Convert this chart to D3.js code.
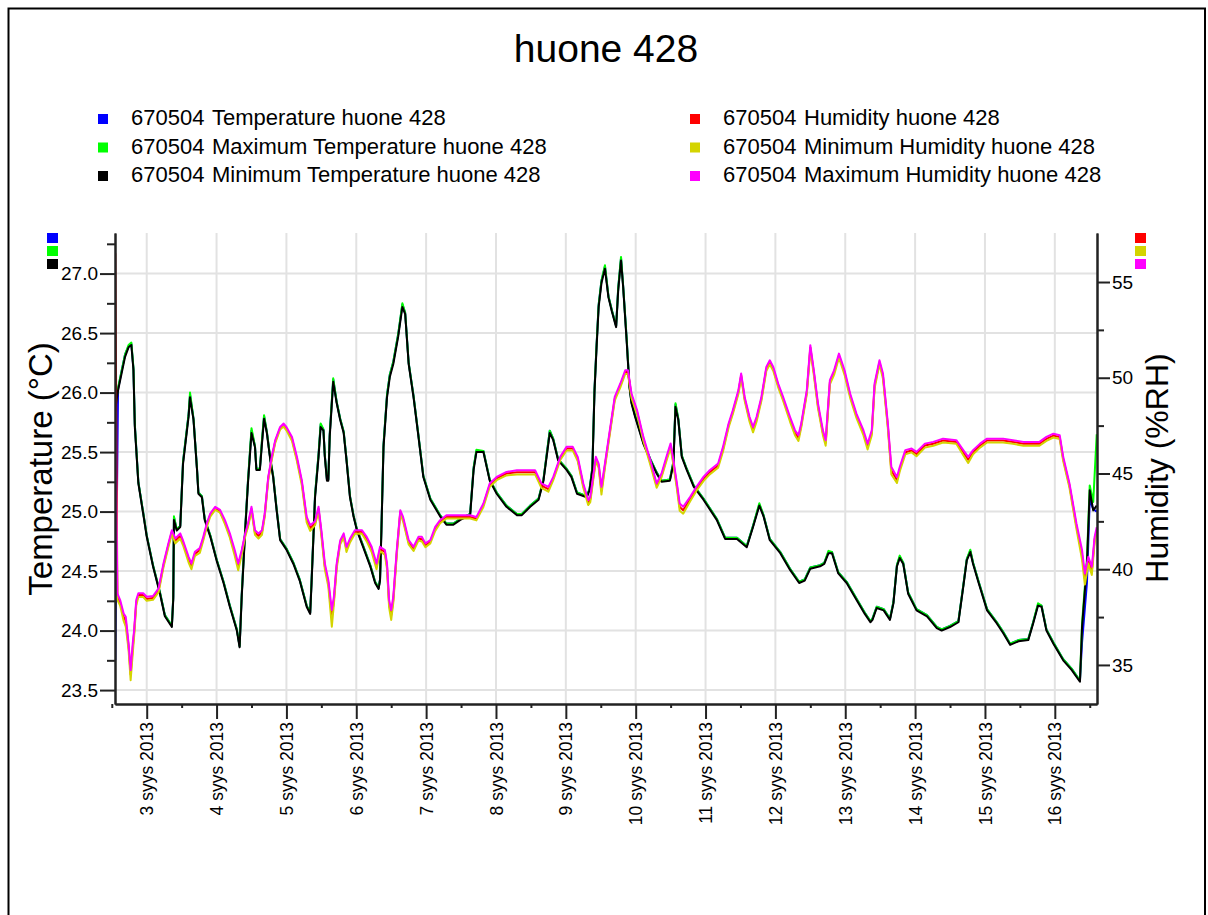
<!DOCTYPE html>
<html>
<head>
<meta charset="utf-8">
<script src="https://d3js.org/d3.v7.min.js"></script>
<style>
  body { margin: 0; background: #fff; }
  svg { display: block; }
  text { font-family: "Liberation Sans", Arial, sans-serif; fill: #000; }
  .grid line { stroke: #e2e2e2; stroke-width: 2; }
  .axis path, .axis line { stroke: #222; stroke-width: 2; fill: none; }
  .series { fill: none; stroke-width: 2; stroke-linejoin: round; }
</style>
</head>
<body>
<div id="chart"></div>
<script>
var chartTitle = "huone 428";
var loggerId = "670504";
var tempNames = ["Temperature huone 428", "Maximum Temperature huone 428", "Minimum Temperature huone 428"];
var humNames = ["Humidity huone 428", "Minimum Humidity huone 428", "Maximum Humidity huone 428"];
var tempColors = ["#0000ff", "#00ff00", "#000000"];
var humColors = ["#ff0000", "#d4d400", "#ff00ff"];

// x ticks: days of September 2013
var dayTicks = [3, 4, 5, 6, 7, 8, 9, 10, 11, 12, 13, 14, 15, 16];
var monthLabel = "syys 2013";
var tempTicks = [23.5, 24.0, 24.5, 25.0, 25.5, 26.0, 26.5, 27.0];
var humTicks = [35, 40, 45, 50, 55];

// time as day of month (fractional)
var tempDays = [
  2.55,2.59,2.64,2.69,2.74,2.78,2.81,2.83,2.88,2.95,
  3.00,3.09,3.19,3.26,3.36,3.38,3.39,3.43,3.48,3.52,
  3.60,3.62,3.67,3.72,3.74,3.79,3.83,3.91,4.00,4.10,
  4.19,4.29,4.33,4.36,4.41,4.45,4.50,4.55,4.57,4.62,
  4.65,4.68,4.72,4.77,4.81,4.86,4.91,5.00,5.10,5.19,
  5.29,5.34,5.36,5.41,5.46,5.49,5.53,5.55,5.58,5.60,
  5.62,5.67,5.72,5.77,5.82,5.86,5.91,5.96,6.01,6.10,
  6.20,6.27,6.32,6.34,6.36,6.39,6.44,6.48,6.53,6.60,
  6.66,6.70,6.75,6.82,6.89,6.96,7.06,7.20,7.29,7.39,
  7.49,7.63,7.68,7.72,7.82,7.91,8.01,8.15,8.30,8.37,
  8.49,8.61,8.68,8.77,8.82,8.89,9.01,9.08,9.16,9.30,
  9.34,9.38,9.41,9.44,9.47,9.51,9.56,9.61,9.66,9.72,
  9.75,9.79,9.82,9.87,9.91,9.94,9.99,10.11,10.21,10.30,
  10.37,10.49,10.54,10.57,10.61,10.66,10.73,10.83,10.97,11.16,
  11.28,11.45,11.59,11.68,11.77,11.83,11.92,12.07,12.21,12.34,
  12.42,12.50,12.64,12.70,12.76,12.81,12.90,13.02,13.16,13.28,
  13.36,13.39,13.45,13.55,13.64,13.69,13.74,13.78,13.83,13.90,
  14.02,14.17,14.31,14.38,14.50,14.62,14.69,14.74,14.79,14.83,
  14.91,15.03,15.17,15.26,15.36,15.48,15.62,15.69,15.76,15.81,
  15.88,15.98,16.12,16.24,16.36,16.39,16.46,16.50,16.55,16.60
];
var tempAvg = [
  23.75,26.03,26.18,26.32,26.39,26.41,26.20,25.73,25.25,24.99,
  24.80,24.55,24.32,24.13,24.04,24.28,24.95,24.85,24.88,25.42,
  25.82,25.98,25.78,25.36,25.16,25.13,24.94,24.80,24.60,24.41,
  24.21,24.01,23.87,24.30,24.86,25.26,25.68,25.55,25.36,25.36,
  25.59,25.80,25.67,25.44,25.30,25.02,24.77,24.69,24.57,24.43,
  24.21,24.15,24.42,25.14,25.48,25.73,25.69,25.47,25.27,25.27,
  25.65,26.11,25.92,25.78,25.67,25.44,25.13,24.97,24.85,24.71,
  24.55,24.41,24.36,24.43,24.86,25.56,25.98,26.15,26.26,26.49,
  26.74,26.67,26.25,25.97,25.64,25.30,25.11,24.97,24.90,24.90,
  24.94,24.98,25.37,25.51,25.51,25.27,25.16,25.05,24.98,24.98,
  25.05,25.11,25.27,25.68,25.61,25.44,25.36,25.30,25.16,25.13,
  25.19,25.37,26.02,26.40,26.74,26.94,27.06,26.81,26.69,26.56,
  26.88,27.13,26.90,26.46,26.06,25.92,25.81,25.58,25.44,25.33,
  25.26,25.27,25.42,25.90,25.78,25.47,25.36,25.22,25.11,24.94,
  24.78,24.78,24.71,24.88,25.06,24.97,24.77,24.66,24.52,24.41,
  24.43,24.53,24.55,24.57,24.66,24.66,24.49,24.41,24.27,24.15,
  24.08,24.10,24.20,24.18,24.10,24.24,24.55,24.62,24.57,24.32,
  24.18,24.13,24.03,24.01,24.04,24.08,24.38,24.60,24.67,24.57,
  24.41,24.18,24.07,23.99,23.89,23.92,23.93,24.07,24.22,24.21,
  24.01,23.90,23.76,23.68,23.58,23.90,24.40,25.10,25.02,25.00
];
var tempMax = [
  25.88,26.04,26.18,26.32,26.40,26.42,26.21,25.73,25.25,24.99,
  24.80,24.55,24.32,24.13,24.04,24.28,24.96,24.85,24.88,25.42,
  25.82,26.00,25.78,25.36,25.16,25.13,24.94,24.80,24.60,24.41,
  24.21,24.01,23.87,24.30,24.86,25.26,25.70,25.55,25.36,25.36,
  25.60,25.81,25.67,25.44,25.30,25.02,24.77,24.69,24.57,24.43,
  24.21,24.15,24.42,25.14,25.48,25.74,25.69,25.47,25.27,25.27,
  25.65,26.12,25.92,25.78,25.67,25.44,25.13,24.97,24.85,24.71,
  24.55,24.41,24.36,24.43,24.86,25.56,25.98,26.15,26.26,26.49,
  26.75,26.67,26.25,25.97,25.64,25.30,25.11,24.97,24.90,24.90,
  24.94,24.98,25.37,25.52,25.51,25.27,25.16,25.05,24.98,24.98,
  25.05,25.11,25.27,25.68,25.61,25.44,25.36,25.30,25.16,25.13,
  25.19,25.37,26.02,26.40,26.74,26.94,27.07,26.81,26.69,26.56,
  26.88,27.14,26.90,26.46,26.06,25.92,25.81,25.58,25.44,25.33,
  25.26,25.27,25.42,25.91,25.78,25.47,25.36,25.22,25.11,24.94,
  24.78,24.78,24.71,24.88,25.07,24.97,24.77,24.66,24.52,24.41,
  24.43,24.53,24.55,24.57,24.67,24.66,24.49,24.41,24.27,24.15,
  24.08,24.10,24.20,24.18,24.10,24.24,24.55,24.63,24.57,24.32,
  24.18,24.13,24.03,24.01,24.04,24.08,24.38,24.60,24.68,24.57,
  24.41,24.18,24.07,23.99,23.89,23.92,23.93,24.07,24.23,24.21,
  24.01,23.90,23.76,23.68,23.58,24.06,24.60,25.22,25.08,25.65
];
var tempMin = [
  25.86,26.02,26.16,26.30,26.38,26.40,26.19,25.71,25.24,24.98,
  24.79,24.54,24.31,24.12,24.03,24.26,24.93,24.84,24.87,25.40,
  25.80,25.96,25.77,25.35,25.15,25.12,24.93,24.79,24.59,24.40,
  24.20,24.00,23.86,24.28,24.84,25.24,25.66,25.54,25.35,25.35,
  25.57,25.78,25.66,25.43,25.29,25.01,24.76,24.68,24.56,24.42,
  24.20,24.14,24.40,25.12,25.46,25.71,25.68,25.46,25.26,25.26,
  25.63,26.09,25.91,25.77,25.66,25.43,25.12,24.96,24.84,24.70,
  24.54,24.40,24.35,24.42,24.84,25.54,25.96,26.13,26.24,26.47,
  26.72,26.66,26.24,25.96,25.63,25.29,25.10,24.96,24.89,24.89,
  24.93,24.97,25.35,25.50,25.50,25.26,25.15,25.04,24.97,24.97,
  25.04,25.10,25.26,25.66,25.60,25.43,25.35,25.29,25.15,25.12,
  25.18,25.35,26.00,26.38,26.72,26.92,27.04,26.80,26.68,26.55,
  26.86,27.11,26.89,26.44,26.05,25.91,25.80,25.57,25.43,25.32,
  25.25,25.26,25.40,25.88,25.77,25.46,25.35,25.21,25.10,24.93,
  24.77,24.77,24.70,24.87,25.05,24.96,24.76,24.65,24.51,24.40,
  24.42,24.52,24.54,24.56,24.65,24.65,24.48,24.40,24.26,24.14,
  24.07,24.09,24.19,24.17,24.09,24.23,24.54,24.61,24.56,24.31,
  24.17,24.12,24.02,24.00,24.03,24.07,24.37,24.59,24.66,24.56,
  24.40,24.17,24.06,23.98,23.88,23.91,23.92,24.06,24.21,24.20,
  24.00,23.89,23.75,23.67,23.57,24.03,24.56,25.18,25.01,25.05
];

var humDays = [
  2.55,2.58,2.62,2.67,2.70,2.74,2.77,2.80,2.82,2.85,
  2.88,2.95,3.00,3.09,3.17,3.24,3.31,3.36,3.41,3.48,
  3.52,3.60,3.64,3.69,3.76,3.81,3.86,3.91,3.98,4.05,
  4.12,4.19,4.26,4.31,4.36,4.41,4.45,4.50,4.55,4.60,
  4.65,4.69,4.74,4.79,4.84,4.91,4.96,5.00,5.08,5.15,
  5.22,5.29,5.34,5.41,5.46,5.50,5.55,5.60,5.65,5.68,
  5.72,5.77,5.82,5.86,5.91,5.98,6.03,6.08,6.15,6.22,
  6.29,6.34,6.41,6.44,6.47,6.50,6.53,6.58,6.63,6.67,
  6.75,6.82,6.89,6.94,6.99,7.06,7.13,7.20,7.29,7.44,
  7.63,7.72,7.82,7.91,8.01,8.15,8.30,8.44,8.56,8.65,
  8.75,8.82,8.92,9.01,9.10,9.17,9.25,9.32,9.35,9.39,
  9.43,9.47,9.51,9.56,9.63,9.70,9.78,9.85,9.89,9.94,
  10.02,10.11,10.21,10.30,10.37,10.44,10.50,10.54,10.59,10.63,
  10.68,10.78,10.87,10.97,11.06,11.18,11.25,11.33,11.39,11.47,
  11.51,11.56,11.63,11.68,11.73,11.80,11.87,11.92,11.97,12.04,
  12.11,12.21,12.28,12.33,12.37,12.45,12.50,12.55,12.61,12.68,
  12.72,12.78,12.84,12.91,12.99,13.07,13.16,13.26,13.32,13.38,
  13.42,13.49,13.54,13.61,13.66,13.74,13.78,13.86,13.95,14.02,
  14.14,14.26,14.40,14.59,14.69,14.76,14.83,14.93,15.03,15.26,
  15.40,15.55,15.78,15.88,15.98,16.07,16.12,16.21,16.31,16.39,
  16.43,16.48,16.53,16.57,16.60
];
var humAvg = [
  56.50,38.60,38.25,37.50,37.30,36.00,34.50,35.90,36.70,38.25,
  38.65,38.65,38.45,38.50,38.90,40.20,41.25,41.95,41.50,41.75,
  41.40,40.50,40.15,40.80,41.00,41.60,42.30,42.85,43.20,43.00,
  42.45,41.75,40.85,40.15,40.90,41.80,42.30,43.15,41.90,41.75,
  41.95,42.85,44.75,45.80,46.67,47.37,47.55,47.35,46.80,45.75,
  44.55,42.60,42.15,42.40,43.15,41.90,40.15,39.30,37.50,38.40,
  40.20,41.40,41.75,41.05,41.50,41.95,41.95,41.95,41.57,41.05,
  40.15,41.05,40.90,40.15,38.20,37.60,38.40,40.90,43.00,42.62,
  41.40,41.05,41.60,41.57,41.25,41.45,42.10,42.48,42.73,42.73,
  42.73,42.64,43.35,44.40,44.75,45.00,45.07,45.07,45.07,44.37,
  44.18,44.73,45.80,46.30,46.30,45.76,44.37,43.48,43.65,44.72,
  45.76,45.42,44.10,45.42,47.16,48.90,49.60,50.30,50.30,49.07,
  48.20,46.81,45.57,44.37,44.90,45.76,46.46,45.57,44.35,43.25,
  43.08,43.67,44.20,44.72,45.07,45.42,46.27,47.51,48.20,49.25,
  50.12,48.90,47.83,47.30,47.83,48.90,50.46,50.81,50.46,49.60,
  48.90,47.83,47.13,46.85,47.51,49.25,51.58,50.28,48.52,47.13,
  46.60,49.76,50.28,51.16,50.28,49.07,48.02,47.13,46.40,47.13,
  49.58,50.81,50.09,47.48,45.15,44.66,45.22,46.11,46.20,46.02,
  46.46,46.55,46.72,46.65,46.10,45.72,46.11,46.46,46.72,46.72,
  46.65,46.55,46.55,46.81,46.98,46.90,45.76,44.37,42.25,40.75,
  39.50,40.50,39.90,41.55,42.05
];
var humMin = [
  48.30,38.40,38.10,37.30,37.00,35.80,34.20,35.60,36.50,38.10,
  38.55,38.55,38.35,38.40,38.80,40.10,41.15,41.85,41.35,41.60,
  41.25,40.35,40.00,40.70,40.85,41.50,42.20,42.75,43.10,42.95,
  42.35,41.65,40.70,39.95,40.75,41.70,42.20,43.05,41.80,41.60,
  41.80,42.75,44.65,45.70,46.60,47.30,47.45,47.25,46.70,45.65,
  44.40,42.45,42.00,42.30,43.05,41.75,40.00,39.10,37.00,38.20,
  40.05,41.30,41.65,40.90,41.40,41.85,41.85,41.85,41.45,40.90,
  40.00,40.95,40.75,40.00,38.00,37.35,38.25,40.75,42.90,42.50,
  41.30,40.95,41.50,41.45,41.15,41.35,42.00,42.40,42.65,42.65,
  42.65,42.55,43.25,44.30,44.65,44.90,44.95,44.95,44.95,44.25,
  44.05,44.65,45.70,46.20,46.20,45.65,44.25,43.35,43.50,44.60,
  45.65,45.30,43.90,45.30,47.05,48.80,49.50,50.20,50.20,48.95,
  48.10,46.70,45.45,44.25,44.80,45.65,46.35,45.45,44.20,43.05,
  42.90,43.55,44.10,44.60,44.95,45.30,46.15,47.40,48.10,49.15,
  50.00,48.80,47.70,47.15,47.70,48.80,50.35,50.70,50.35,49.50,
  48.80,47.70,47.00,46.70,47.40,49.15,51.45,50.15,48.40,47.00,
  46.45,49.65,50.15,51.05,50.15,48.95,47.90,47.00,46.25,47.00,
  49.45,50.70,49.95,47.35,44.95,44.50,45.10,46.00,46.10,45.90,
  46.35,46.45,46.62,46.55,45.95,45.55,46.00,46.35,46.62,46.62,
  46.55,46.45,46.45,46.70,46.88,46.80,45.65,44.25,42.10,40.50,
  39.20,40.30,39.70,41.40,41.90
];
var humMax = [
  48.50,38.74,38.39,37.69,37.52,36.13,34.73,36.13,36.82,38.39,
  38.74,38.74,38.56,38.60,39.00,40.30,41.35,42.04,41.61,41.87,
  41.50,40.65,40.30,40.91,41.10,41.69,42.39,42.91,43.26,43.10,
  42.56,41.87,41.00,40.30,41.00,41.87,42.39,43.26,42.04,41.87,
  42.04,42.91,44.82,45.87,46.74,47.43,47.61,47.43,46.91,45.87,
  44.65,42.73,42.30,42.50,43.26,42.04,40.30,39.43,37.87,38.56,
  40.30,41.50,41.87,41.17,41.60,42.04,42.04,42.04,41.69,41.17,
  40.30,41.17,41.00,40.30,38.39,37.87,38.56,41.00,43.08,42.73,
  41.52,41.17,41.69,41.69,41.35,41.52,42.21,42.56,42.82,42.82,
  42.82,42.73,43.43,44.48,44.82,45.08,45.17,45.17,45.17,44.48,
  44.30,44.82,45.87,46.39,46.39,45.87,44.48,43.61,43.78,44.82,
  45.87,45.52,44.30,45.52,47.26,49.00,49.70,50.39,50.39,49.18,
  48.30,46.91,45.69,44.48,45.00,45.87,46.57,45.69,44.48,43.43,
  43.26,43.78,44.30,44.82,45.17,45.52,46.39,47.61,48.30,49.35,
  50.22,49.00,47.95,47.43,47.95,49.00,50.56,50.91,50.56,49.70,
  49.00,47.95,47.26,47.00,47.61,49.35,51.70,50.39,48.65,47.26,
  46.74,49.87,50.39,51.26,50.39,49.18,48.13,47.26,46.56,47.26,
  49.70,50.91,50.22,47.61,45.34,44.82,45.34,46.22,46.30,46.13,
  46.56,46.65,46.82,46.74,46.22,45.87,46.22,46.56,46.82,46.82,
  46.74,46.65,46.65,46.91,47.08,47.00,45.87,44.48,42.39,41.00,
  39.78,40.65,40.13,41.69,42.20
];

var W = 1208, H = 915;
var plot = {left: 115, right: 1097, top: 233, bottom: 704};

function dayToDate(d) {
  return new Date(Date.UTC(2013, 8, 1) + (d - 1) * 864e5);
}

var svg = d3.select("#chart").append("svg")
  .attr("width", W)
  .attr("height", H);

svg.append("rect")
  .attr("width", W).attr("height", H).attr("fill", "#fff");

// outer frame
svg.append("rect")
  .attr("x", 8.5).attr("y", 8.5)
  .attr("width", 1196.5).attr("height", 940)
  .attr("fill", "none").attr("stroke", "#000").attr("stroke-width", 2);

svg.append("text")
  .attr("x", 606).attr("y", 62)
  .attr("text-anchor", "middle")
  .attr("font-size", 39)
  .text(chartTitle);

var x = d3.scaleUtc()
  .domain([dayToDate(2.546), dayToDate(16.604)])
  .range([plot.left, plot.right]);
var yT = d3.scaleLinear().domain([23.383, 27.341]).range([plot.bottom, plot.top]);
var yH = d3.scaleLinear().domain([32.96, 57.56]).range([plot.bottom, plot.top]);

// grid
var grid = svg.append("g").attr("class", "grid");
grid.selectAll(".gh").data(tempTicks).enter().append("line")
  .attr("x1", plot.left).attr("x2", plot.right)
  .attr("y1", function(d) { return yT(d); })
  .attr("y2", function(d) { return yT(d); });
grid.selectAll(".gv").data(dayTicks).enter().append("line")
  .attr("y1", plot.top).attr("y2", plot.bottom)
  .attr("x1", function(d) { return x(dayToDate(d)); })
  .attr("x2", function(d) { return x(dayToDate(d)); });

// series
svg.append("clipPath").attr("id", "plotclip").append("rect")
  .attr("x", plot.left).attr("y", plot.top - 5)
  .attr("width", plot.right - plot.left).attr("height", plot.bottom - plot.top + 5);

var lines = svg.append("g").attr("clip-path", "url(#plotclip)");

function drawSeries(days, vals, yScale, color) {
  var pts = days.map(function(d, i) { return [dayToDate(d), vals[i]]; });
  var line = d3.line()
    .x(function(p) { return x(p[0]); })
    .y(function(p) { return yScale(p[1]); });
  lines.append("path")
    .datum(pts)
    .attr("class", "series")
    .attr("stroke", color)
    .attr("d", line);
}

drawSeries(tempDays, tempAvg, yT, tempColors[0]);
drawSeries(tempDays, tempMax, yT, tempColors[1]);
drawSeries(tempDays, tempMin, yT, tempColors[2]);
drawSeries(humDays, humAvg, yH, humColors[0]);
drawSeries(humDays, humMin, yH, humColors[1]);
drawSeries(humDays, humMax, yH, humColors[2]);

// axes
var fontFam = "Liberation Sans, Arial, sans-serif";

var minorT = d3.range(23.5, 27.3, 0.25).filter(function(v) { return Math.abs(v * 2 - Math.round(v * 2)) > 0.01; });
svg.append("g").attr("class", "axis")
  .attr("transform", "translate(" + plot.left + ",0)")
  .call(d3.axisLeft(yT).tickValues(minorT).tickSize(8).tickSizeOuter(0).tickFormat(""));
var axL = svg.append("g").attr("class", "axis")
  .attr("transform", "translate(" + plot.left + ",0)")
  .call(d3.axisLeft(yT).tickValues(tempTicks).tickSize(15).tickSizeOuter(0).tickPadding(2).tickFormat(d3.format(".1f")));
axL.attr("font-size", 19).attr("font-family", fontFam);
axL.selectAll("text").attr("fill", "#000");

var minorH = [37.5, 42.5, 47.5, 52.5];
svg.append("g").attr("class", "axis")
  .attr("transform", "translate(" + plot.right + ",0)")
  .call(d3.axisRight(yH).tickValues(minorH).tickSize(7).tickSizeOuter(0).tickFormat(""));
var axR = svg.append("g").attr("class", "axis")
  .attr("transform", "translate(" + plot.right + ",0)")
  .call(d3.axisRight(yH).tickValues(humTicks).tickSize(13).tickSizeOuter(0).tickPadding(2));
axR.attr("font-size", 19).attr("font-family", fontFam);
axR.selectAll("text").attr("fill", "#000");

var minorX = dayTicks.map(function(d) { return dayToDate(d - 0.5); }).concat([dayToDate(16.5)]);
svg.append("g").attr("class", "axis")
  .attr("transform", "translate(0," + plot.bottom + ")")
  .call(d3.axisBottom(x).tickValues(minorX).tickSize(4).tickSizeOuter(0).tickFormat(""));
var axB = svg.append("g").attr("class", "axis")
  .attr("transform", "translate(0," + plot.bottom + ")")
  .call(d3.axisBottom(x).tickValues(dayTicks.map(dayToDate)).tickSize(15).tickSizeOuter(0)
    .tickFormat(function(d) { return d.getUTCDate() + " " + monthLabel; }));
axB.attr("font-size", 17.5).attr("font-family", fontFam);
axB.selectAll("text")
  .attr("fill", "#000")
  .attr("transform", "rotate(-90)")
  .attr("x", -18).attr("y", 0)
  .attr("dy", "0.35em")
  .style("text-anchor", "end");

// axis titles
svg.append("text")
  .attr("transform", "translate(52,469) rotate(-90)")
  .attr("text-anchor", "middle")
  .attr("font-size", 33)
  .text("Temperature (°C)");
svg.append("text")
  .attr("transform", "translate(1168,468) rotate(-90)")
  .attr("text-anchor", "middle")
  .attr("font-size", 32)
  .text("Humidity (%RH)");

// colour keys beside axes
svg.selectAll(".keyL").data(tempColors).enter().append("rect")
  .attr("x", 47).attr("y", function(d, i) { return 233 + i * 13; })
  .attr("width", 11).attr("height", 10)
  .attr("fill", function(d) { return d; });
svg.selectAll(".keyR").data(humColors).enter().append("rect")
  .attr("x", 1135).attr("y", function(d, i) { return 233 + i * 13; })
  .attr("width", 11).attr("height", 10)
  .attr("fill", function(d) { return d; });

// legend
function legendColumn(names, colors, x0) {
  var g = svg.append("g").attr("font-size", 22);
  names.forEach(function(name, i) {
    var base = 125 + i * 28.5;
    g.append("rect")
      .attr("x", x0 - 33).attr("y", base - 11)
      .attr("width", 10).attr("height", 10)
      .attr("fill", colors[i]);
    g.append("text").attr("x", x0).attr("y", base).text(loggerId);
    g.append("text").attr("x", x0 + 81).attr("y", base).text(name);
  });
}
legendColumn(tempNames, tempColors, 131);
legendColumn(humNames, humColors, 723);
</script>
</body>
</html>
